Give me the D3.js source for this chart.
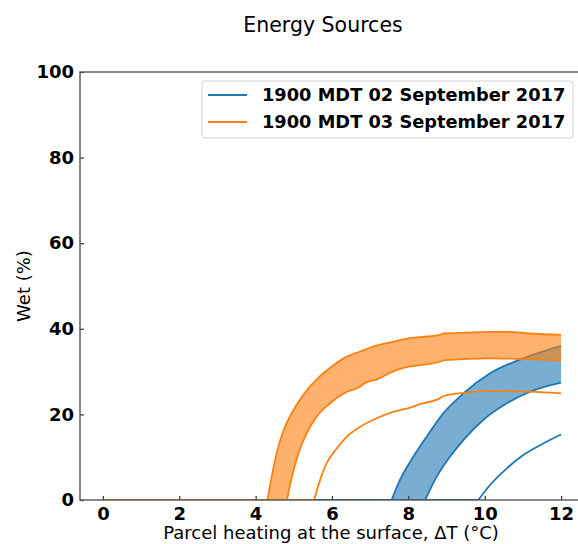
<!DOCTYPE html>
<html>
<head>
<meta charset="utf-8">
<script src="https://cdn.jsdelivr.net/npm/d3@7"></script>
<style>
  body { margin: 0; background: #fff; }
  svg { display: block; font-family: "DejaVu Sans", sans-serif; }
</style>
</head>
<body>
<div id="chart"></div>
<script>
// values: [dT (°C), wet (%)]
const sep02Hi = [[0, 0], [7.56, 0], [7.78, 4.7], [8.13, 10.1], [8.48, 14.8], [8.92, 20.3], [9.44, 24.9], [10.14, 29.6], [11.01, 33.1], [12, 36.0]];
const sep02Lo = [[0, 0], [8.44, 0], [8.74, 5.4], [9.09, 10.1], [9.44, 14.0], [9.96, 18.7], [10.58, 22.6], [11.19, 25.3], [12, 27.4]];
const sep02Line = [[0, 0], [9.83, 0], [10.14, 3.5], [10.58, 7.4], [11.01, 10.5], [11.53, 13.2], [12, 15.3]];

const sep03Hi = [[0, 0], [4.31, 0], [4.42, 5.4], [4.55, 10.9], [4.73, 16.2], [4.99, 21.0], [5.25, 24.6], [5.6, 28.2], [6.04, 31.5], [6.39, 33.5], [6.74, 34.7], [7.1, 35.9], [7.61, 37.0], [8.04, 37.8], [8.5, 38.2], [8.83, 38.6], [8.92, 38.9], [9.5, 39.1], [10.14, 39.3], [10.6, 39.3], [11.19, 38.9], [12, 38.6]];
const sep03Lo = [[0, 0], [4.82, 0], [4.95, 5.4], [5.12, 10.9], [5.34, 15.6], [5.6, 19.5], [5.95, 22.6], [6.39, 25.3], [6.74, 26.5], [6.82, 27.1], [7.17, 28.2], [7.7, 30.4], [8.04, 31.2], [8.31, 31.5], [8.83, 32.3], [8.96, 32.7], [10.14, 33.1], [11.19, 32.9], [12, 32.6]];
const sep03Line = [[0, 0], [5.53, 0], [5.69, 4.7], [5.86, 8.6], [6.13, 12.1], [6.39, 14.8], [6.74, 17.1], [7.17, 19.1], [7.6, 20.6], [8.04, 21.6], [8.31, 22.4], [8.83, 23.8], [8.92, 24.3], [9.53, 25.1], [10.14, 25.5], [11.19, 25.3], [12, 24.9]];

const seriesNames = ["1900 MDT 02 September 2017", "1900 MDT 03 September 2017"];
const xTicks = [0, 2, 4, 6, 8, 10, 12];
const yTicks = [0, 20, 40, 60, 80, 100];

const BLUE = "#1f77b4";
const ORANGE = "#ff7f0e";

let width = 578;
let height = 544;
let plotLeft = 80, plotRight = 584, plotTop = 72, plotBottom = 500;

let x = d3.scaleLinear().domain([-0.6, 12.6]).range([plotLeft, plotRight]);
let y = d3.scaleLinear().domain([0, 100]).range([plotBottom, plotTop]);

let svg = d3.select("#chart")
            .append("svg")
            .attr("width", width)
            .attr("height", height);

svg.append("defs").append("clipPath").attr("id", "plotclip")
   .append("rect")
   .attr("x", plotLeft).attr("y", plotTop)
   .attr("width", plotRight - plotLeft).attr("height", plotBottom - plotTop);

let line = d3.line()
             .x(d => x(d[0]))
             .y(d => y(d[1]))
             .curve(d3.curveMonotoneX);

// flat zero part straight, the rise smoothed from its onset
function curvePath(s) {
  return `M${x(s[0][0])},${y(s[0][1])}L` + line(s.slice(1)).slice(1);
}

function band(lo, hi) {
  let back = line(lo.slice(1).reverse()).slice(1);
  return curvePath(hi) + "L" + back + `L${x(lo[0][0])},${y(lo[0][1])}Z`;
}

let plot = svg.append("g").attr("clip-path", "url(#plotclip)");

function drawDay(lo, hi, single, color) {
  [hi, lo, single].forEach(s => {
    plot.append("path")
        .attr("d", curvePath(s))
        .attr("fill", "none")
        .attr("stroke", color)
        .attr("stroke-width", 1.8);
  });
  plot.append("path")
      .attr("d", band(lo, hi))
      .attr("fill", color)
      .attr("fill-opacity", 0.6)
      .attr("stroke", "none");
}

drawDay(sep02Lo, sep02Hi, sep02Line, BLUE);
drawDay(sep03Lo, sep03Hi, sep03Line, ORANGE);

// axes, ticks inside
let xAxis = svg.append("g")
   .attr("transform", `translate(0,${plotBottom})`)
   .call(d3.axisBottom(x).tickValues(xTicks).tickSize(-4).tickSizeOuter(0).tickPadding(7));
let yAxis = svg.append("g")
   .attr("transform", `translate(${plotLeft},0)`)
   .call(d3.axisLeft(y).tickValues(yTicks).tickSize(-4).tickSizeOuter(0).tickPadding(6));

[xAxis, yAxis].forEach(g => {
  g.select(".domain").remove();
  g.selectAll(".tick line").attr("stroke", "#333").attr("stroke-width", 1.2);
  g.selectAll(".tick text")
   .attr("fill", "#000")
   .style("font-family", "DejaVu Sans")
   .style("font-size", "18px")
   .style("font-weight", "bold");
});

// spines
svg.append("rect")
   .attr("x", plotLeft).attr("y", plotTop)
   .attr("width", plotRight - plotLeft).attr("height", plotBottom - plotTop)
   .attr("fill", "none")
   .attr("stroke", "#555")
   .attr("stroke-width", 1.4);

// title and labels
svg.append("text")
   .attr("x", 323).attr("y", 32)
   .attr("text-anchor", "middle")
   .style("font-size", "20.5px")
   .text("Energy Sources");

svg.append("text")
   .attr("x", 331).attr("y", 539)
   .attr("text-anchor", "middle")
   .style("font-size", "18px")
   .text("Parcel heating at the surface, ΔT (°C)");

svg.append("text")
   .attr("transform", "translate(30,286) rotate(-90)")
   .attr("text-anchor", "middle")
   .style("font-size", "18px")
   .text("Wet (%)");

// legend
let legend = svg.append("g");
legend.append("rect")
      .attr("x", 202).attr("y", 81)
      .attr("width", 371).attr("height", 57)
      .attr("rx", 3)
      .attr("fill", "#fff").attr("fill-opacity", 0.8)
      .attr("stroke", "#d0d0d0");

let items = legend.selectAll("g.item")
                  .data(seriesNames)
                  .enter()
                  .append("g")
                  .attr("transform", (d, i) => `translate(0,${95 + i * 27})`);

items.append("line")
     .attr("x1", 208).attr("x2", 247)
     .attr("stroke", (d, i) => i === 0 ? BLUE : ORANGE)
     .attr("stroke-width", 1.8);

items.append("text")
     .attr("x", 262).attr("dy", "0.35em")
     .style("font-size", "17.8px")
     .style("font-weight", "bold")
     .text(d => d);
</script>
</body>
</html>
